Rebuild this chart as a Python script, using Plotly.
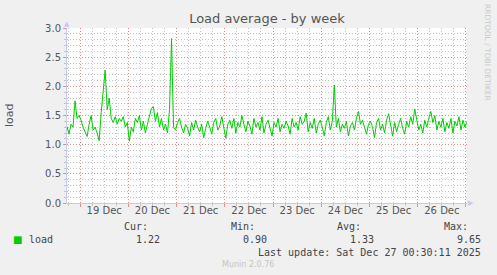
import plotly.graph_objects as go
import pandas as pd

# ---------------- data ----------------
start_time = "2025-12-18 17:30"
end_time = "2025-12-27 00:30"
load = [
    1.31, 1.18, 1.35, 1.30, 1.75, 1.45, 1.50, 1.42, 1.30, 1.22,
    1.14, 1.35, 1.50, 1.25, 1.30, 1.20, 1.07, 1.55, 1.89, 2.28,
    1.60, 1.80, 1.45, 1.38, 1.48, 1.35, 1.45, 1.40, 1.48, 1.30,
    1.38, 1.06, 1.30, 1.22, 1.45, 1.38, 1.50, 1.25, 1.40, 1.20,
    1.35, 1.50, 1.62, 1.65, 1.40, 1.55, 1.30, 1.45, 1.25, 1.35,
    1.20, 1.60, 2.82, 1.30, 1.25, 1.38, 1.45, 1.30, 1.20, 1.35,
    1.28, 1.15, 1.38, 1.25, 1.42, 1.30, 1.22, 1.35, 1.12, 1.28,
    1.40, 1.30, 1.18, 1.38, 1.45, 1.25, 1.32, 1.48, 1.30, 1.11,
    1.35, 1.42, 1.28, 1.45, 1.20, 1.38, 1.30, 1.50, 1.35, 1.22,
    1.40, 1.32, 1.18, 1.45, 1.30, 1.38, 1.25, 1.48, 1.20, 1.35,
    1.42, 1.28, 1.15, 1.38, 1.30, 1.45, 1.22, 1.35, 1.28, 1.40,
    1.32, 1.18, 1.45, 1.30, 1.38, 1.25, 1.48, 1.35, 1.40, 1.54,
    1.22, 1.38, 1.28, 1.45, 1.20, 1.35, 1.42, 1.30, 1.15, 1.38,
    1.48, 1.25, 1.40, 2.02, 1.30, 1.45, 1.22, 1.35, 1.28, 1.40,
    1.15, 1.32, 1.38, 1.25, 1.45, 1.57, 1.35, 1.42, 1.28, 1.18,
    1.35, 1.40, 1.30, 1.12, 1.38, 1.45, 1.25, 1.35, 1.20, 1.42,
    1.53, 1.30, 1.15, 1.38, 1.22, 1.35, 1.45, 1.28, 1.18, 1.40,
    1.30, 1.48, 1.35, 1.61, 1.40, 1.25, 1.35, 1.20, 1.42, 1.30,
    1.45, 1.57, 1.38, 1.50, 1.25, 1.40, 1.30, 1.45, 1.22, 1.38,
    1.28, 1.45, 1.20, 1.40, 1.32, 1.48, 1.25, 1.42, 1.30, 1.39,
]
times = pd.date_range(start_time, periods=len(load), freq="h")

day_lines = pd.date_range("2025-12-19", "2025-12-27", freq="D")
label_days = pd.date_range("2025-12-19 12:00", "2025-12-26 12:00", freq="D")
day_labels = [f"{d.day} {d.strftime('%b')}" for d in label_days]

y_ticks = [0.0, 0.5, 1.0, 1.5, 2.0, 2.5, 3.0]
y_tick_labels = [f"{v:.1f}" for v in y_ticks]

series_name = "load"
stat_names = ["Cur:", "Min:", "Avg:", "Max:"]
stat_values = ["1.22", "0.90", "1.33", "9.65"]
last_update = "Last update: Sat Dec 27 00:30:11 2025"

# ---------------- layout helpers ----------------
W, H = 497, 275
L, R, T, B = 67, 30, 28, 72
PW, PH = W - L - R, H - T - B


def px(x):
    return (x - L) / PW


def py(y):
    return (T + PH - y) / PH


MAJOR = "rgba(230,120,120,0.75)"
MINOR = "rgba(190,190,190,0.9)"
AXIS = "#c8c8f4"
DOT = "1px,2px"
TICKFONT = dict(family="DejaVu Sans", size=10, color="#555555")
MONO = dict(family="DejaVu Sans Mono", size=10, color="#444444")

fig = go.Figure()
fig.add_trace(go.Scatter(x=times, y=load, mode="lines",
                         line=dict(color="#00cc00", width=1),
                         showlegend=False, hoverinfo="skip"))
fig.add_trace(go.Scatter(x=[times[0], times[-1]], y=[None, None], xaxis="x2",
                         mode="lines", showlegend=False, hoverinfo="skip"))

fig.update_layout(
    width=W, height=H,
    margin=dict(l=L, r=R, t=T, b=B),
    paper_bgcolor="#f0f0f0",
    plot_bgcolor="#ffffff",
    title=dict(text="Load average - by week", x=0.5, xanchor="center",
               xref="paper", y=1 - 18 / H, yanchor="middle", yref="container",
               font=dict(family="DejaVu Sans", size=13, color="#555555")),
    xaxis=dict(type="date", range=[start_time, end_time],
               tickmode="array", tickvals=day_lines, showticklabels=False,
               showgrid=True, gridcolor=MAJOR, griddash=DOT, gridwidth=1,
               ticks="outside", ticklen=3, tickcolor=MAJOR,
               minor=dict(dtick=6 * 3600 * 1000, tick0="2025-12-19",
                          showgrid=True, gridcolor=MINOR, griddash=DOT,
                          ticks="outside", ticklen=2, tickcolor=MINOR),
               showline=True, linecolor=AXIS, linewidth=1,
               zeroline=False, fixedrange=True),
    xaxis2=dict(type="date", overlaying="x", anchor="y", side="bottom",
                range=[start_time, end_time], tickmode="array",
                tickvals=label_days, ticktext=day_labels, tickfont=TICKFONT,
                showgrid=False, ticks="", zeroline=False, showline=False),
    yaxis=dict(range=[0, 3], tickmode="array", tickvals=y_ticks,
               ticktext=y_tick_labels, tickfont=TICKFONT,
               showgrid=True, gridcolor=MAJOR, griddash=DOT, gridwidth=1,
               ticks="outside", ticklen=3, tickcolor=MAJOR,
               minor=dict(dtick=0.1, showgrid=True, gridcolor=MINOR,
                          griddash=DOT, ticks="outside", ticklen=2,
                          tickcolor=MINOR),
               showline=True, linecolor=AXIS, linewidth=1,
               zeroline=False, fixedrange=True),
)

ann = []
# y axis title
ann.append(dict(text="load", x=px(9), y=py(115), textangle=-90,
                font=dict(family="DejaVu Sans", size=11, color="#555555")))
# axis arrows
ann.append(dict(text="▲", x=px(67), y=py(24),
                font=dict(family="DejaVu Sans", size=7, color=AXIS)))
ann.append(dict(text="▶", x=px(471), y=py(203),
                font=dict(family="DejaVu Sans", size=7, color=AXIS)))
# watermark
ann.append(dict(text="RRDTOOL / TOBI OETIKER", x=px(488), y=py(52),
                textangle=90,
                font=dict(family="DejaVu Sans", size=7.5, color="#c8c8c8")))
# legend
ann.append(dict(text="■", x=px(17), y=py(239),
                font=dict(family="DejaVu Sans", size=10, color="#00cc00")))
ann.append(dict(text=series_name, x=px(27), y=py(239), xanchor="left",
                font=MONO))
name_right = [150, 257, 363, 470]
val_right = [162, 269, 376, 483]
for nm, vl, nr, vr in zip(stat_names, stat_values, name_right, val_right):
    ann.append(dict(text=nm, x=px(nr), y=py(226), xanchor="right", font=MONO))
    ann.append(dict(text=vl, x=px(vr), y=py(239), xanchor="right", font=MONO))
ann.append(dict(text=last_update, x=px(483), y=py(252), xanchor="right",
                font=MONO))
ann.append(dict(text="Munin 2.0.76", x=px(248), y=py(264),
                font=dict(family="DejaVu Sans", size=8, color="#c4c4c4")))

for a in ann:
    a.setdefault("xanchor", "center")
    a.update(xref="paper", yref="paper", showarrow=False, yanchor="middle")
fig.update_layout(annotations=ann)

fig.write_html("out.html")
